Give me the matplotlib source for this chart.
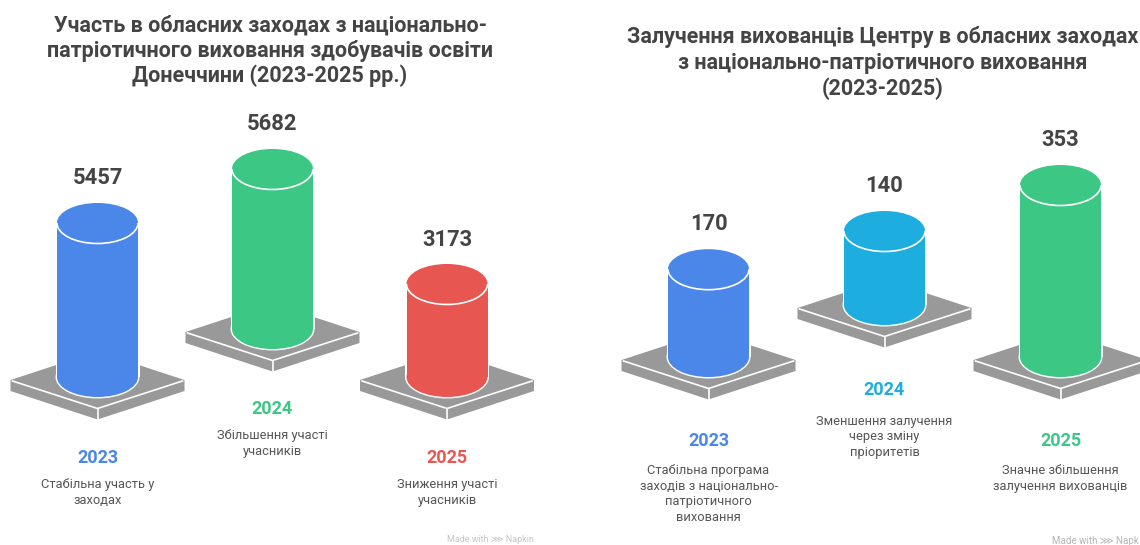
"""
Two pictorial cylinder charts side by side.
"""
from matplotlib import pyplot as plt
from matplotlib.patches import Ellipse, Arc, Polygon

plt.rcParams['font.family'] = ['Roboto', 'DejaVu Sans']

# data
years = ["2023", "2024", "2025"]
left_title = "Участь в обласних заходах з національно-\nпатріотичного виховання здобувачів освіти\nДонеччини (2023-2025 рр.)"
left_values = [5457, 5682, 3173]
left_notes = ["Стабільна участь у\nзаходах", "Збільшення участі\nучасників", "Зниження участі\nучасників"]
right_title = "Залучення вихованців Центру в обласних заходах\nз національно-патріотичного виховання\n(2023-2025)"
right_values = [170, 140, 353]
right_notes = ["Стабільна програма\nзаходів з національно-\nпатріотичного\nвиховання", "Зменшення залучення\nчерез зміну\nпріоритетів", "Значне збільшення\nзалучення вихованців"]

# colours
BLUE = "#4B87E8"
GREEN = "#3DC785"
RED = "#E85652"
CYAN = "#1DADDF"
PLATE = "#999999"
TEXT = "#444444"
NOTE = "#555555"

fig = plt.figure(figsize=(11.4, 5.45), dpi=100)
ax = fig.add_axes([0, 0, 1, 1])
ax.set_xlim(0, 1140)
ax.set_ylim(545, 0)
ax.axis("off")


def plate(x, y):
	# one flat grey shape, white seams only along the front edges
	hw, hh, t = 87, 28.5, 11
	ax.add_patch(Polygon([(x - hw, y), (x, y - hh), (x + hw, y), (x + hw, y + t), (x, y + hh + t), (x - hw, y + t)],
	                     fc=PLATE, ec="none", zorder=1))
	ax.plot([x - hw + 2, x, x + hw - 2], [y + 1, y + hh, y + 1], color="white", lw=1.2, zorder=2)
	ax.plot([x, x], [y + hh, y + hh + t], color="white", lw=1.2, zorder=2)


def cylinder(x, base, height, color):
	rx, ry = 40.5, 20
	top = base - height
	# white halo round the foot
	ax.add_patch(Ellipse((x, base), 2 * rx + 3, 2 * ry + 3, fc="white", ec="none", zorder=3))
	ax.bar(x, -height, bottom=base, width=2 * rx + 3, color="white", zorder=3)
	ax.add_patch(Ellipse((x, base), 2 * rx, 2 * ry, fc=color, ec="none", zorder=4))
	ax.bar(x, -height, bottom=base, width=2 * rx, color=color, zorder=4)
	ax.add_patch(Ellipse((x, top), 2 * rx, 2 * ry, fc=color, ec="none", zorder=5))
	ax.add_patch(Arc((x, top), 2 * rx, 2 * ry + 1, theta1=0, theta2=180, color="white", lw=1.2, zorder=6))


def column(x, base, height, value, year, note, color, year_y, note_y, value_y):
	plate(x, base + 3)
	cylinder(x, base, height, color)
	ax.text(x, value_y, str(value), ha="center", va="center",
	        fontsize=15.8, fontweight="bold", color=TEXT)
	ax.text(x, year_y, year, ha="center", va="center", fontsize=13, fontweight="bold", color=color)
	ax.text(x, note_y, note, ha="center", va="top", fontsize=9.3, color=NOTE, linespacing=1.27)


# left chart
left_x = [97.5, 272.5, 447]
left_base = [377, 329, 377]
left_colors = [BLUE, GREEN, RED]
left_year_y = [458, 409, 458]
left_note_y = [478, 429, 478]
left_value_y = [178.5, 123.5, 240.5]
for i in range(3):
	height = left_values[i] * 0.0267 + 8.3
	column(left_x[i], left_base[i], height, left_values[i], years[i], left_notes[i],
	       left_colors[i], left_year_y[i], left_note_y[i], left_value_y[i])

# right chart
right_x = [708.5, 884.5, 1060.5]
right_base = [357, 305, 357]
right_colors = [BLUE, CYAN, GREEN]
right_year_y = [441.5, 390, 441.5]
right_note_y = [464, 414.5, 464]
right_value_y = [223.5, 185.5, 140.5]
for i in range(3):
	height = right_values[i] * 0.46 + 9.6
	column(right_x[i], right_base[i], height, right_values[i], years[i], right_notes[i],
	       right_colors[i], right_year_y[i], right_note_y[i], right_value_y[i])

ax.text(270, 51, left_title, ha="center", va="center", fontsize=15.5, fontweight="bold",
        color=TEXT, linespacing=1.17)
ax.text(883, 63, right_title, ha="center", va="center", fontsize=15.5, fontweight="bold",
        color=TEXT, linespacing=1.2)

# watermarks
ax.text(490, 539, "Made with ⋙ Napkin", ha="center", va="center", fontsize=6.5, color="#c4c4c4")
ax.text(1139, 541, "Made with ⋙ Napk", ha="right", va="center", fontsize=7, color="#b5b5b5")

fig.savefig("out.png", dpi=100)
